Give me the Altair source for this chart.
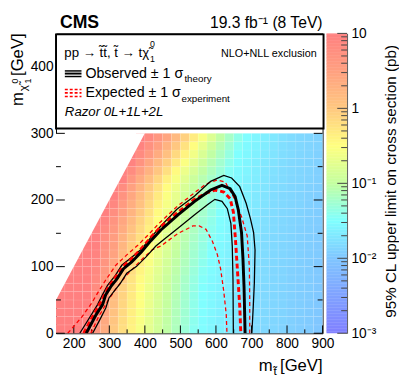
import altair as alt
import pandas as pd
import numpy as np

FONT = "Liberation Sans"

# ---------------- data ----------------
# log10(95% CL upper limit on cross section [pb]); row r covers m_chi in [12.5 r, 12.5 r + 12.5),
# each row ends at m_stop = 900 GeV with 25 GeV wide cells.
LOGXS_ROWS = [
    [1.0, 1.0, 1.0, 0.89, 0.64, 0.35, -0.01, -0.20, -0.39, -0.57, -0.73, -0.88, -1.03, -1.16, -1.30, -1.43, -1.52, -1.57, -1.62, -1.67, -1.72, -1.77, -1.81, -1.84, -1.86, -1.89, -1.91, -1.94, -1.96, -1.99],
    [1.0, 1.0, 1.0, 0.93, 0.68, 0.39, 0.04, -0.18, -0.37, -0.55, -0.71, -0.87, -1.02, -1.15, -1.28, -1.41, -1.52, -1.57, -1.62, -1.67, -1.72, -1.77, -1.81, -1.83, -1.86, -1.88, -1.91, -1.94, -1.96, -1.99],
    [1.0, 1.0, 1.0, 0.96, 0.71, 0.44, 0.08, -0.15, -0.35, -0.54, -0.70, -0.85, -1.01, -1.14, -1.27, -1.40, -1.51, -1.56, -1.61, -1.66, -1.71, -1.76, -1.81, -1.83, -1.86, -1.88, -1.91, -1.93, -1.96, -1.98],
    [1.0, 1.0, 1.0, 0.99, 0.74, 0.49, 0.13, -0.13, -0.33, -0.52, -0.68, -0.84, -0.99, -1.13, -1.26, -1.39, -1.51, -1.56, -1.61, -1.66, -1.71, -1.76, -1.81, -1.83, -1.86, -1.88, -1.91, -1.93, -1.96, -1.98],
    [1.0, 1.0, 1.0, 1.0, 0.78, 0.53, 0.18, -0.10, -0.31, -0.51, -0.66, -0.82, -0.98, -1.11, -1.24, -1.38, -1.50, -1.55, -1.60, -1.66, -1.71, -1.76, -1.80, -1.83, -1.85, -1.88, -1.90, -1.93, -1.95, -1.98],
    [1.0, 1.0, 1.0, 1.0, 0.81, 0.56, 0.23, -0.08, -0.28, -0.49, -0.65, -0.80, -0.96, -1.10, -1.23, -1.36, -1.49, -1.55, -1.60, -1.65, -1.70, -1.75, -1.80, -1.83, -1.85, -1.88, -1.90, -1.93, -1.95, -1.98],
    [1.0, 1.0, 1.0, 0.84, 0.60, 0.28, -0.04, -0.25, -0.46, -0.62, -0.78, -0.94, -1.08, -1.21, -1.34, -1.47, -1.54, -1.59, -1.64, -1.69, -1.74, -1.80, -1.82, -1.85, -1.87, -1.90, -1.92, -1.95, -1.97],
    [1.0, 1.0, 1.0, 0.88, 0.63, 0.35, 0.02, -0.20, -0.41, -0.59, -0.75, -0.90, -1.05, -1.18, -1.31, -1.44, -1.53, -1.58, -1.63, -1.68, -1.74, -1.79, -1.82, -1.85, -1.87, -1.90, -1.92, -1.95, -1.97],
    [1.0, 1.0, 0.91, 0.67, 0.41, 0.09, -0.15, -0.36, -0.55, -0.71, -0.87, -1.03, -1.15, -1.28, -1.41, -1.52, -1.57, -1.62, -1.67, -1.72, -1.78, -1.82, -1.84, -1.87, -1.89, -1.92, -1.94, -1.97],
    [1.0, 1.0, 0.95, 0.71, 0.46, 0.16, -0.10, -0.31, -0.51, -0.68, -0.84, -1.00, -1.13, -1.26, -1.38, -1.50, -1.56, -1.61, -1.66, -1.71, -1.76, -1.81, -1.84, -1.86, -1.89, -1.91, -1.94, -1.96],
    [1.0, 0.98, 0.74, 0.51, 0.22, -0.05, -0.26, -0.47, -0.64, -0.80, -0.97, -1.10, -1.23, -1.35, -1.48, -1.55, -1.60, -1.65, -1.70, -1.76, -1.81, -1.83, -1.86, -1.88, -1.91, -1.93, -1.96],
    [1.0, 1.0, 0.78, 0.55, 0.28, 0.0, -0.21, -0.42, -0.60, -0.77, -0.93, -1.08, -1.20, -1.33, -1.45, -1.53, -1.58, -1.64, -1.69, -1.74, -1.80, -1.83, -1.85, -1.88, -1.90, -1.93, -1.95],
    [1.0, 0.84, 0.61, 0.35, 0.07, -0.15, -0.36, -0.56, -0.73, -0.89, -1.05, -1.17, -1.30, -1.42, -1.52, -1.57, -1.62, -1.68, -1.73, -1.78, -1.82, -1.85, -1.87, -1.90, -1.92, -1.95],
    [1.0, 0.94, 0.69, 0.43, 0.16, -0.09, -0.30, -0.51, -0.68, -0.85, -1.01, -1.14, -1.27, -1.39, -1.51, -1.56, -1.61, -1.67, -1.72, -1.77, -1.82, -1.84, -1.87, -1.89, -1.92, -1.94],
    [1.0, 0.78, 0.51, 0.25, -0.01, -0.23, -0.45, -0.63, -0.80, -0.97, -1.11, -1.23, -1.36, -1.49, -1.55, -1.60, -1.66, -1.71, -1.77, -1.81, -1.84, -1.86, -1.89, -1.91, -1.94],
    [1.0, 0.89, 0.60, 0.33, 0.07, -0.16, -0.38, -0.58, -0.75, -0.93, -1.07, -1.20, -1.33, -1.46, -1.54, -1.59, -1.64, -1.70, -1.75, -1.81, -1.83, -1.86, -1.88, -1.91, -1.93],
    [1.0, 0.70, 0.41, 0.15, -0.09, -0.31, -0.53, -0.70, -0.88, -1.04, -1.17, -1.30, -1.43, -1.52, -1.58, -1.63, -1.69, -1.74, -1.80, -1.83, -1.85, -1.88, -1.90, -1.93],
    [1.0, 0.82, 0.49, 0.24, -0.02, -0.24, -0.47, -0.65, -0.83, -1.00, -1.14, -1.27, -1.40, -1.51, -1.57, -1.62, -1.68, -1.73, -1.79, -1.82, -1.85, -1.87, -1.90, -1.92],
    [0.98, 0.64, 0.36, 0.11, -0.13, -0.36, -0.57, -0.75, -0.94, -1.09, -1.22, -1.36, -1.49, -1.55, -1.61, -1.66, -1.72, -1.78, -1.81, -1.84, -1.86, -1.89, -1.91],
    [1.0, 0.82, 0.52, 0.27, 0.02, -0.21, -0.45, -0.65, -0.84, -1.02, -1.16, -1.30, -1.45, -1.54, -1.59, -1.65, -1.71, -1.76, -1.81, -1.83, -1.86, -1.88, -1.91],
    [0.96, 0.70, 0.43, 0.18, -0.06, -0.30, -0.53, -0.73, -0.93, -1.10, -1.25, -1.40, -1.52, -1.58, -1.64, -1.70, -1.75, -1.80, -1.83, -1.85, -1.88, -1.90],
    [1.0, 0.83, 0.59, 0.35, 0.10, -0.15, -0.39, -0.61, -0.82, -1.02, -1.18, -1.34, -1.50, -1.56, -1.62, -1.68, -1.74, -1.79, -1.82, -1.85, -1.87, -1.90],
    [0.95, 0.73, 0.51, 0.26, 0.01, -0.24, -0.48, -0.70, -0.92, -1.11, -1.28, -1.45, -1.54, -1.60, -1.66, -1.72, -1.78, -1.82, -1.84, -1.87, -1.89],
    [1.0, 0.85, 0.64, 0.43, 0.18, -0.08, -0.33, -0.57, -0.80, -1.03, -1.21, -1.39, -1.52, -1.58, -1.64, -1.70, -1.76, -1.81, -1.84, -1.86, -1.89],
]

# exclusion contours (m_stop, m_chi) in GeV
OBS_M = [235, 263, 281, 290, 304, 322, 340, 363, 390, 417, 445, 494, 540, 585, 617, 640, 654, 663, 672, 676, 679, 682]
OBS_C = [0, 28, 43, 58, 70, 82, 97, 107, 122, 139, 155, 178, 198, 215, 222, 217, 205, 185, 151, 112, 70, 0]
OBS_UP_M = [217, 245, 267, 281, 295, 317, 335, 363, 390, 417, 445, 490, 540, 585, 622, 644, 667, 685, 697, 706, 710, 708, 705, 701]
OBS_UP_C = [0, 24, 43, 58, 72, 87, 102, 114, 126, 144, 161, 186, 206, 228, 237, 233, 220, 195, 172, 151, 125, 75, 40, 0]
OBS_DN_M = [253, 272, 290, 299, 313, 331, 349, 376, 404, 431, 449, 494, 540, 576, 597, 617, 632, 642, 646, 648, 649]
OBS_DN_C = [0, 19, 38, 53, 63, 75, 90, 100, 115, 131, 139, 158, 178, 193, 201, 198, 187, 165, 130, 80, 0]
EXP_M = [228, 255, 276, 298, 320, 340, 363, 390, 417, 445, 494, 540, 575, 598, 622, 640, 649, 655, 661, 667, 670]
EXP_C = [0, 27, 47, 70, 86, 101, 112, 127, 144, 160, 182, 201, 211, 215, 212, 202, 182, 140, 90, 40, 0]
EXP_UP_M = [183, 222, 250, 270, 290, 318, 350, 380, 410, 440, 490, 540, 572, 604, 626, 649, 672, 688, 694, 695, 695]
EXP_UP_C = [0, 24, 45, 63, 80, 102, 118, 132, 148, 165, 190, 211, 224, 230, 227, 205, 175, 146, 100, 50, 0]
EXP_DN_M = [248, 270, 295, 320, 350, 390, 420, 445, 494, 535, 553, 572, 590, 604, 613, 622, 629, 631]
EXP_DN_C = [0, 25, 48, 68, 88, 110, 125, 131, 150, 161, 161, 156, 138, 118, 97, 63, 28, 0]

X_LABELS = [200, 300, 400, 500, 600, 700, 800, 900]
X_MINOR = [250, 350, 450, 550, 650, 750, 850]
Y_LABELS = [0, 100, 200, 300, 400]
Y_MINOR = [50, 150, 250, 350]
CB_DECADES = [0.001, 0.01, 0.1, 1, 10]
CB_MINOR = [k * 10.0 ** e for e in range(-3, 1) for k in range(2, 10)]

COLOR_STOPS = [-3, -2.5, -2, -1.5, -1, -0.5, 0, 0.5, 1]
COLOR_RANGE = ["#8080ff", "#80a2ff", "#80c6ff", "#80ffff", "#c4ffa0", "#ffff80", "#ffc880", "#ffa080", "#ff8080"]

M_MIN, M_MAX, C_MAX = 150, 900, 450
DM_MIN = 100       # kinematic edge of the scanned grid
CELL_W, CELL_H = 25, 12.5

W, H = 272, 306

# ---------------- scales / axes ----------------
xs = alt.Scale(domain=[M_MIN, M_MAX], nice=False, zero=False)
ys = alt.Scale(domain=[0, C_MAX], nice=False, zero=False)
cs = alt.Scale(domain=COLOR_STOPS, range=COLOR_RANGE, interpolate="rgb")
X_AX = alt.Axis(values=X_LABELS, title=None, ticks=False, domain=False, grid=False,
                labelFont=FONT, labelFontSize=14, labelColor="black", labelPadding=4,
                labelFlush=False, labelOverlap=False)
Y_AX = alt.Axis(values=Y_LABELS, title=None, ticks=False, domain=False, grid=False,
                labelFont=FONT, labelFontSize=14, labelColor="black", labelPadding=3,
                labelFlush=False, labelOverlap=False)

def X(f):
    return alt.X(f, scale=xs, axis=X_AX)

def Y(f):
    return alt.Y(f, scale=ys, axis=Y_AX)

# ---------------- heat map ----------------
cells = []
n_cols = (M_MAX - M_MIN) // CELL_W
for r, row in enumerate(LOGXS_ROWS):
    start = n_cols - len(row)
    for i, v in enumerate(row):
        m0 = M_MIN + CELL_W * (start + i)
        cells.append(dict(m0=m0, m1=m0 + CELL_W, c0=CELL_H * r, c1=CELL_H * (r + 1), v=v))
heat_df = pd.DataFrame(cells)
c_top = CELL_H * len(LOGXS_ROWS)

heat = alt.Chart(heat_df).mark_rect(stroke="white", strokeWidth=0.4, strokeOpacity=0.2).encode(
    x=X("m0:Q"), x2="m1:Q", y=Y("c0:Q"), y2="c1:Q",
    color=alt.Color("v:Q", scale=cs, legend=None))

mask_df = pd.DataFrame({"m": [M_MIN, c_top + DM_MIN], "lo": [M_MIN - DM_MIN, c_top], "hi": [c_top, c_top]})
mask = alt.Chart(mask_df).mark_area(color="white", opacity=1).encode(x=X("m:Q"), y=Y("lo:Q"), y2="hi:Q")

# ---------------- inner ticks ----------------
def tick_df(vals):
    return pd.DataFrame({"t": vals})

ticks = [
    alt.Chart(tick_df(X_LABELS)).mark_rule(color="black").encode(x=X("t:Q"), y=alt.value(H), y2=alt.value(H - 8)),
    alt.Chart(tick_df(X_MINOR)).mark_rule(color="black").encode(x=X("t:Q"), y=alt.value(H), y2=alt.value(H - 4)),
    alt.Chart(tick_df(Y_LABELS)).mark_rule(color="black").encode(y=Y("t:Q"), x=alt.value(0), x2=alt.value(9)),
    alt.Chart(tick_df(Y_MINOR)).mark_rule(color="black").encode(y=Y("t:Q"), x=alt.value(0), x2=alt.value(5)),
    alt.Chart(tick_df(Y_LABELS)).mark_rule(color="black").encode(y=Y("t:Q"), x=alt.value(W), x2=alt.value(W - 9)),
    alt.Chart(tick_df(Y_MINOR)).mark_rule(color="black").encode(y=Y("t:Q"), x=alt.value(W), x2=alt.value(W - 5)),
]

# ---------------- contours ----------------
def contour(ms, cs_, color, width, dash=None):
    df = pd.DataFrame({"m": ms, "c": cs_, "o": list(range(len(ms)))})
    kw = dict(color=color, strokeWidth=width, clip=True)
    if dash:
        kw["strokeDash"] = dash
    return alt.Chart(df).mark_line(**kw).encode(x=X("m:Q"), y=Y("c:Q"), order="o:Q")

lines = [
    contour(EXP_UP_M, EXP_UP_C, "#ff0000", 1.3, [4, 3]),
    contour(EXP_DN_M, EXP_DN_C, "#ff0000", 1.3, [4, 3]),
    contour(OBS_UP_M, OBS_UP_C, "black", 1.3),
    contour(OBS_DN_M, OBS_DN_C, "black", 1.3),
    contour(EXP_M, EXP_C, "#ff0000", 3, [5, 3]),
    contour(OBS_M, OBS_C, "black", 3),
]

# ---------------- decorations ----------------
one = pd.DataFrame({"a": [0]})

def txt(s, x, y, size, align="left", angle=0, weight="normal", style="normal", color="black"):
    return alt.Chart(pd.DataFrame({"t": [s]})).mark_text(
        align=align, baseline="alphabetic", fontSize=size, font=FONT, fontWeight=weight,
        fontStyle=style, angle=angle, color=color).encode(x=alt.value(x), y=alt.value(y), text="t:N")

def seg(x1, x2, y, color, width, dash=None):
    kw = dict(color=color, strokeWidth=width)
    if dash:
        kw["strokeDash"] = dash
    return alt.Chart(one).mark_rule(**kw).encode(x=alt.value(x1), x2=alt.value(x2), y=alt.value(y))

box = alt.Chart(one).mark_rect(fill="white", stroke="black", strokeWidth=2).encode(
    x=alt.value(0), x2=alt.value(W + 1), y=alt.value(1), y2=alt.value(97))

legend = [
    txt("pp \u2192 t\u0303t\u0303, t\u0303 \u2192 t\u03c7\u0303", 95, 24, 13.5, align="right"),
    txt("0", 96, 14, 9),
    txt("1", 96, 29, 9),
    txt("NLO+NLL exclusion", 266, 24, 11, align="right"),
    seg(9, 26, 38.3, "black", 1.5), seg(9, 26, 41, "black", 2), seg(9, 26, 44, "black", 1.5),
    txt("Observed \u00b1 1 \u03c3", 30, 46, 14.5),
    txt("theory", 131, 50, 10),
    seg(9, 26, 57.3, "#ff0000", 1.5, [3, 2]), seg(9, 26, 60.7, "#ff0000", 2, [3, 2]),
    seg(9, 26, 64.3, "#ff0000", 1.5, [3, 2]),
    txt("Expected \u00b1 1 \u03c3", 30, 65, 14.5),
    txt("experiment", 128, 69.5, 10),
    txt("Razor 0L+1L+2L", 9, 84, 13.5, style="italic"),
]

titles = [
    txt("CMS", 4, -6, 18, weight="bold"),
    txt("19.3 fb\u207b\u00b9 (8 TeV)", W, -6, 16, align="right"),
    # x axis title
    txt("[GeV]", W, 345, 17, align="right"),
    txt("m", 221, 345, 17, align="right"),
    txt("t\u0303", 222, 349, 12),
    # y axis title (rotated)
    txt("m", -34, 74, 17, angle=270),
    txt("\u03c7\u0303", -30, 59, 12, angle=270),
    txt("0", -39, 51, 9, angle=270),
    txt("1", -26, 51, 9, angle=270),
    txt("[GeV]", -34, 0, 17, align="right", angle=270),
    # colour bar title
    txt("95% CL upper limit on cross section (pb)", 347, 151, 15.5, align="center", angle=270),
]

main = alt.layer(heat, mask, *ticks, *lines, box, *legend, *titles)

# ---------------- colour bar ----------------
CB_X0, CB_X1 = W + 4, W + 25
vv = np.round(np.arange(-3, 1, 0.02), 4)
cb_df = pd.DataFrame({"lo": 10 ** vv, "hi": 10 ** np.minimum(vv + 0.025, 1), "v": vv + 0.01})
cbs = alt.Scale(type="log", domain=[0.001, 10], nice=False)
CB_AX = alt.Axis(orient="right", offset=CB_X1 - W, values=CB_DECADES, title=None, ticks=False,
                 domain=True, domainColor="#555", grid=False, labelFont=FONT, labelFontSize=14,
                 labelColor="black", labelPadding=4, labelFlush=False, labelOverlap=False,
                 labelExpr="datum.value >= 5 ? '10' : datum.value >= 0.5 ? '1' : datum.value >= 0.05 ? '10\u207b\u00b9' : datum.value >= 0.005 ? '10\u207b\u00b2' : '10\u207b\u00b3'")

cb_rect = alt.Chart(cb_df).mark_rect().encode(
    x=alt.value(CB_X0), x2=alt.value(CB_X1),
    y=alt.Y("lo:Q", scale=cbs, axis=CB_AX), y2="hi:Q",
    color=alt.Color("v:Q", scale=cs, legend=None))
cb_major = alt.Chart(tick_df(CB_DECADES)).mark_rule(color="#444").encode(
    y=alt.Y("t:Q", scale=cbs, axis=CB_AX), x=alt.value(CB_X1 - 10), x2=alt.value(CB_X1))
cb_minor = alt.Chart(tick_df(CB_MINOR)).mark_rule(color="#444").encode(
    y=alt.Y("t:Q", scale=cbs, axis=CB_AX), x=alt.value(CB_X1 - 6), x2=alt.value(CB_X1))
cbar = alt.layer(cb_rect, cb_major, cb_minor)

chart = alt.layer(main, cbar).resolve_scale(y="independent").properties(
    width=W, height=H,
    autosize=alt.AutoSizeParams(type="none"),
    padding={"left": 49, "top": 22, "right": 78, "bottom": 55},
).configure_view(stroke="black", strokeWidth=1)

chart.save("out.html", embed_options={"renderer": "svg", "actions": False})
